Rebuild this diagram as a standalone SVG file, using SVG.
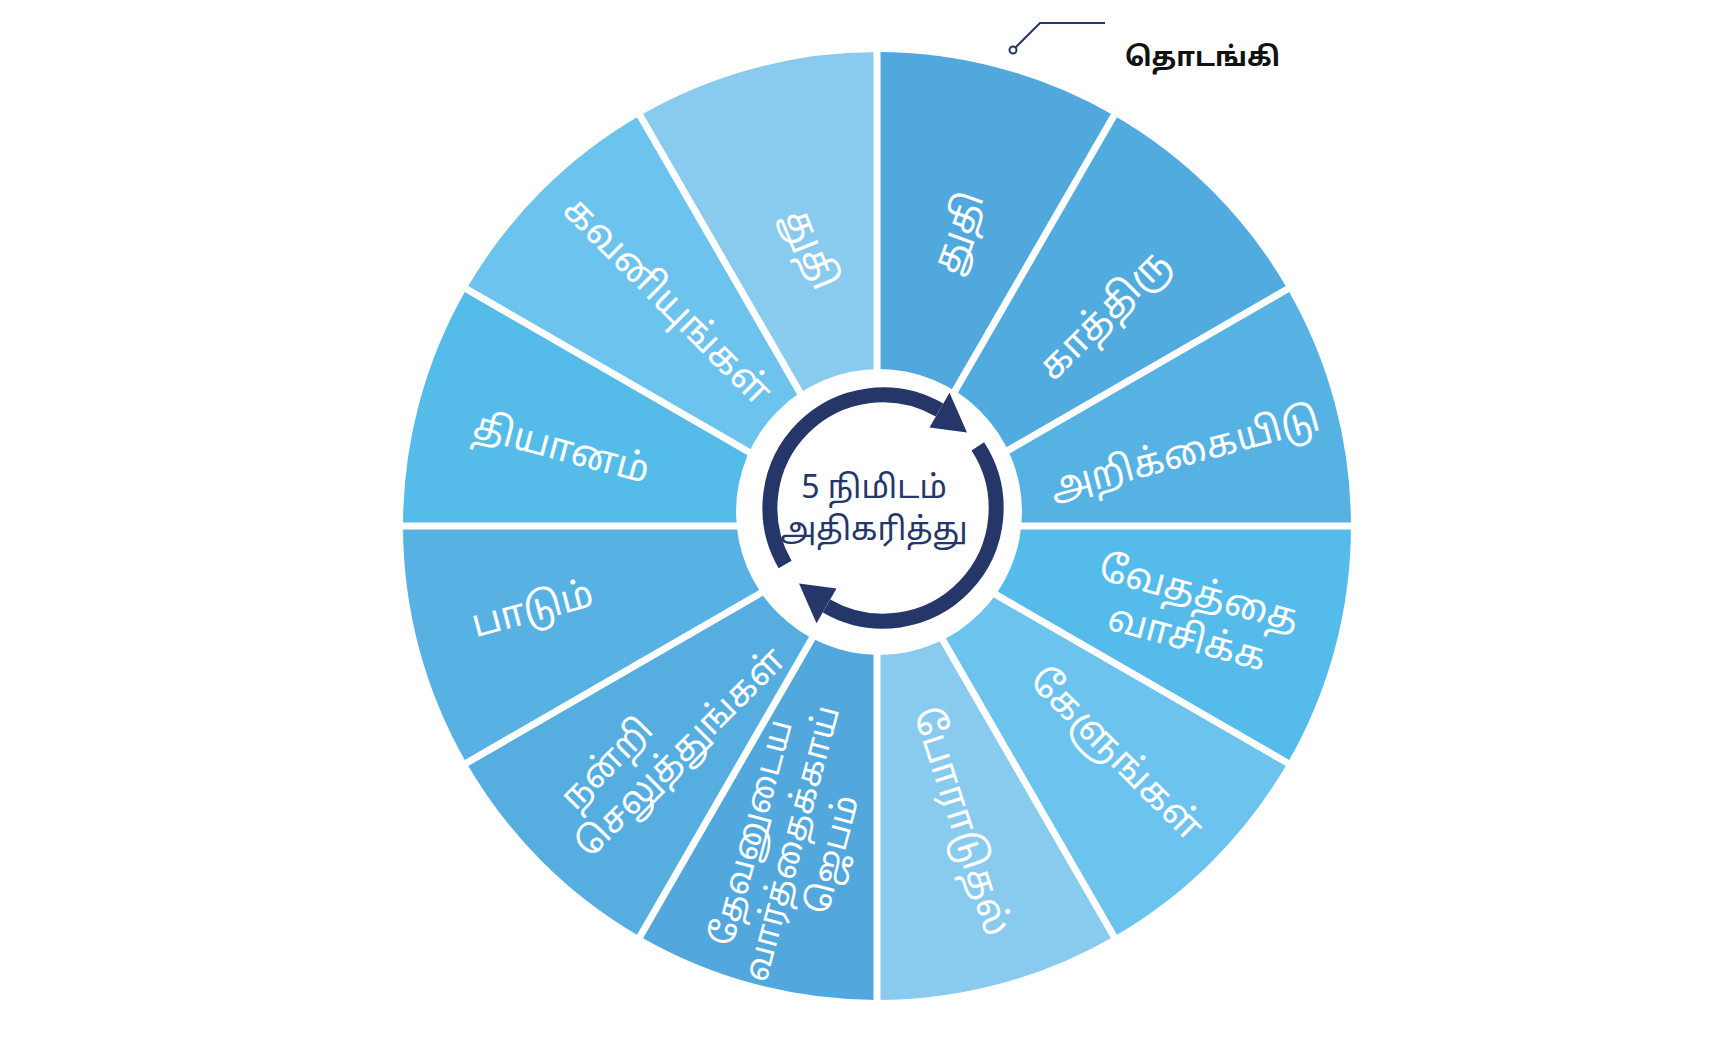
<svg xmlns="http://www.w3.org/2000/svg" width="1732" height="1052" viewBox="0 0 1732 1052">
<style>
.lbl{font-family:"Noto Sans Tamil","Noto Sans","Liberation Sans",sans-serif;fill:#fff;font-size:38px;text-anchor:middle;dominant-baseline:middle}
.div{stroke:#fff;stroke-width:7}
.ctr{font-family:"Noto Sans Tamil","Noto Sans","Liberation Sans",sans-serif;fill:#253668;font-size:32px;text-anchor:middle}
</style>
<rect width="1732" height="1052" fill="#fff"/>
<g id="wedges">
<path id="w1" d="M877,526 L877,52 A474,474 0 0 1 1114,115.5Z" fill="#51A8DC"/>
<path id="w2" d="M877,526 L1114,115.5 A474,474 0 0 1 1287.5,289Z" fill="#52ABDF"/>
<path id="w3" d="M877,526 L1287.5,289 A474,474 0 0 1 1351,526Z" fill="#57B2E4"/>
<path id="w4" d="M877,526 L1351,526 A474,474 0 0 1 1287.5,763Z" fill="#55BBEA"/>
<path id="w5" d="M877,526 L1287.5,763 A474,474 0 0 1 1114,936.5Z" fill="#6CC3EE"/>
<path id="w6" d="M877,526 L1114,936.5 A474,474 0 0 1 877,1000Z" fill="#88CBEE"/>
<path id="w7" d="M877,526 L877,1000 A474,474 0 0 1 640,936.5Z" fill="#52A8DC"/>
<path id="w8" d="M877,526 L640,936.5 A474,474 0 0 1 466.5,763Z" fill="#55ADE0"/>
<path id="w9" d="M877,526 L466.5,763 A474,474 0 0 1 403,526Z" fill="#58B1E3"/>
<path id="w10" d="M877,526 L403,526 A474,474 0 0 1 466.5,289Z" fill="#55BCEA"/>
<path id="w11" d="M877,526 L466.5,289 A474,474 0 0 1 640,115.5Z" fill="#6CC3EE"/>
<path id="w12" d="M877,526 L640,115.5 A474,474 0 0 1 877,52Z" fill="#88CBEE"/>
</g>
<g id="dividers" class="div">
<line x1="877" y1="526" x2="877" y2="48"/>
<line x1="877" y1="526" x2="1116" y2="112"/>
<line x1="877" y1="526" x2="1291" y2="287"/>
<line x1="877" y1="526" x2="1355" y2="526"/>
<line x1="877" y1="526" x2="1291" y2="765"/>
<line x1="877" y1="526" x2="1116" y2="940"/>
<line x1="877" y1="526" x2="877" y2="1004"/>
<line x1="877" y1="526" x2="638" y2="940"/>
<line x1="877" y1="526" x2="463" y2="765"/>
<line x1="877" y1="526" x2="399" y2="526"/>
<line x1="877" y1="526" x2="463" y2="287"/>
<line x1="877" y1="526" x2="638" y2="112"/>
</g>
<g id="labels">
<text class="lbl" transform="translate(960,233) rotate(-70)">துதி</text>
<text class="lbl" transform="translate(1105,316) rotate(-45)">காத்திரு</text>
<text class="lbl" transform="translate(1185,455) rotate(-15)">அறிக்கையிடு</text>
<text class="lbl" transform="translate(1193,616) rotate(15)"><tspan x="0" dy="-22">வேதத்தை</tspan><tspan x="0" dy="46">வாசிக்க</tspan></text>
<text class="lbl" transform="translate(1115,755) rotate(45)">கேளுங்கள்</text>
<text class="lbl" transform="translate(960,822) rotate(72)">போராடுதல்</text>
<text class="lbl" style="font-size:34px" transform="translate(794,844) rotate(-75)"><tspan x="0" dy="-42">தேவனுடைய</tspan><tspan x="0" dy="42">வார்த்தைக்காய்</tspan><tspan x="0" dy="42">ஜெபம்</tspan></text>
<text class="lbl" style="font-size:36px" transform="translate(666,738) rotate(-45)"><tspan x="-60" dy="-22">நன்றி</tspan><tspan x="0" dy="44">செலுத்துங்கள்</tspan></text>
<text class="lbl" transform="translate(533,611) rotate(-15)">பாடும்</text>
<text class="lbl" transform="translate(561,450) rotate(15)">தியானம்</text>
<text class="lbl" transform="translate(666,302) rotate(45)">கவனியுங்கள்</text>
<text class="lbl" transform="translate(810,250) rotate(68)">துதி</text>
</g>
<g id="center">
<circle cx="879" cy="512" r="143" fill="#fff"/>
<path d="M785.1,564.5 A113,113 0 0 1 939.5,410.1" fill="none" stroke="#253668" stroke-width="15"/>
<polygon points="929.5,427.5 949.5,392.8 967,432.4" fill="#253668"/>
<path d="M977.8,446.4 A113,113 0 0 1 826.5,605.9" fill="none" stroke="#253668" stroke-width="15"/>
<polygon points="836.5,588.5 816.5,623.2 799,583.6" fill="#253668"/>
<text class="ctr" x="874" y="498">5 நிமிடம்</text>
<text class="ctr" x="874" y="540">அதிகரித்து</text>
</g>
<g id="start">
<polyline points="1015,48 1040,23 1105,23" fill="none" stroke="#253668" stroke-width="2"/>
<circle cx="1013" cy="50" r="3.5" fill="#fff" stroke="#253668" stroke-width="2"/>
<text x="1125" y="66" style="font-family:'Noto Sans Tamil','Noto Sans','Liberation Sans',sans-serif;font-size:27px;font-weight:bold;fill:#111">தொடங்கி</text>
</g>
</svg>
